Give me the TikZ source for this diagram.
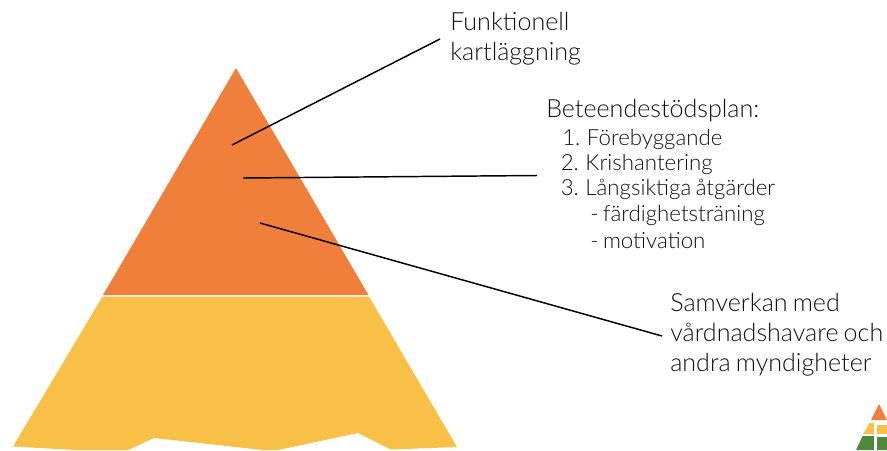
\documentclass[tikz,border=0pt]{standalone}
\usepackage{fontspec}
\setmainfont{Lato Light}[WordSpace=0.75]
\definecolor{pyrorange}{HTML}{F07F3C}
\definecolor{pyryellow}{HTML}{F9C047}
\definecolor{pyrgreen}{HTML}{4F8A3C}
\definecolor{labelink}{HTML}{111111}
\tikzset{
  px/.style={x=0.75pt,y=-0.75pt},
  leader/.style={draw=black,line width=1.1pt},
  biglabel/.style={inner sep=0pt,anchor=west,font=\fontsize{18.8pt}{22.5pt}\selectfont,text=labelink,align=left},
  smalllabel/.style={inner sep=0pt,anchor=west,font=\fontsize{16.7pt}{17pt}\selectfont,text=labelink},
}
\begin{document}
\begin{tikzpicture}[px]
\useasboundingbox (0,0) rectangle (887,450);
\fill[pyrorange] (236,68) -- (368.5,295) -- (103,295) -- cycle;
\fill[pyryellow] (102.5,296.5) -- (369,296.5) -- (457,447) -- (391,449.5) -- (358,433) -- (278,450) -- (263,450) -- (154,438) -- (128,450) -- (75,450) -- (13,446.5) -- cycle;
% logo
\fill[pyrorange] (879,404) -- (887,420) -- (871,420) -- cycle;
\fill[pyryellow] (869.5,423) -- (887,423) -- (887,434) -- (863,434) -- cycle;
\fill[pyrgreen] (862.5,436) -- (887,436) -- (887,450) -- (856,450) -- cycle;
\fill[white] (874,423) rectangle (877,450);
\fill[white] (877,423) rectangle (887,425);
\fill[white] (877,434) rectangle (887,436.5);
% labels
\node[biglabel] (funk) at (450,38.5) {Funktionell\\kartläggning};
\node[biglabel] (plan) at (546,111) {Beteendestödsplan:};
\node[smalllabel] (p1) at (562,139.5) {1. Förebyggande};
\node[smalllabel] (p2) at (560.5,164.5) {2. Krishantering};
\node[smalllabel] (p3) at (560.5,189.5) {3. Långsiktiga åtgärder};
\node[smalllabel] (p4) at (590,215.5) {- färdighetsträning};
\node[smalllabel] (p5) at (590,240.5) {- motivation};
\node[biglabel] (sam) at (670,334.5) {Samverkan med\\vårdnadshavare och\\andra myndigheter};
% leaders
\coordinate (a1) at (232,145);
\coordinate (a2) at (243,178);
\coordinate (a3) at (260,223);
\coordinate (e1) at (440,39);
\coordinate (e2) at (537,175.5);
\coordinate (e3) at (662,336);
\draw[leader] (a1) -- (e1);
\draw[leader] (a2) -- (e2);
\draw[leader] (a3) -- (e3);
\end{tikzpicture}
\end{document}
